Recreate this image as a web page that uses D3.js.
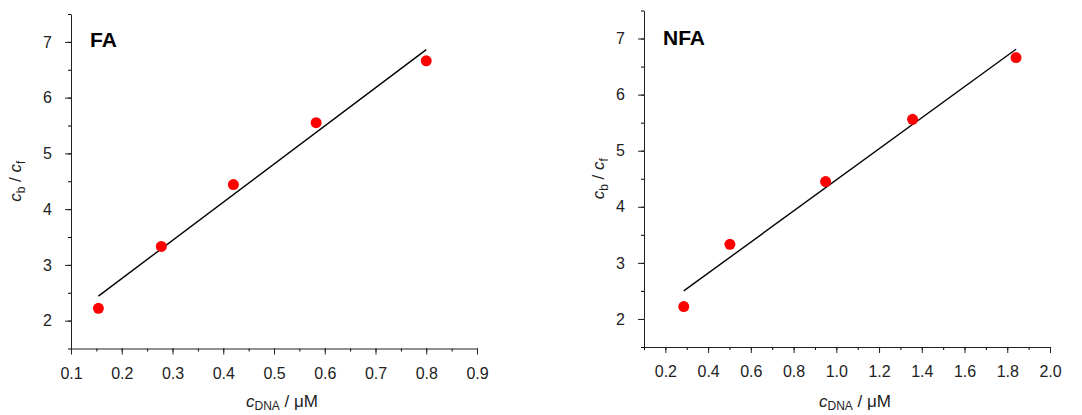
<!DOCTYPE html>
<html>
<head>
<meta charset="utf-8">
<script src="https://cdn.jsdelivr.net/npm/d3@7"></script>
<style>
  body { margin: 0; background: #fff; }
  svg { font-family: "Liberation Sans", Arial, sans-serif; }
</style>
</head>
<body>
<svg id="chart" width="1082" height="415"></svg>
<script>
// data
var faX = [0.154, 0.278, 0.420, 0.583, 0.800];
var faY = [2.22, 3.33, 4.44, 5.55, 6.66];
var faFit = [[0.154, 2.44], [0.800, 6.86]];

var nfaX = [0.286, 0.502, 0.950, 1.357, 1.841];
var nfaY = [2.22, 3.33, 4.45, 5.56, 6.66];
var nfaFit = [[0.286, 2.50], [1.841, 6.81]];

var yTicks = [2, 3, 4, 5, 6, 7];
var faXTicks = [0.1, 0.2, 0.3, 0.4, 0.5, 0.6, 0.7, 0.8, 0.9];
var nfaXTicks = [0.2, 0.4, 0.6, 0.8, 1.0, 1.2, 1.4, 1.6, 1.8, 2.0];

var svg = d3.select("#chart");

function panel(opt) {
    var g = svg.append("g");
    var x = d3.scaleLinear().domain(opt.xDomain).range([opt.left, opt.right]);
    var y = d3.scaleLinear().domain([1.5, 7.5]).range([opt.bottom, opt.top]);

    // minor ticks
    var minorX = d3.range(opt.xDomain[0], opt.xDomain[1] + 1e-9, opt.xMinor);
    g.append("g")
        .attr("transform", "translate(0," + opt.bottom + ")")
        .call(d3.axisBottom(x).tickValues(minorX).tickSize(3).tickFormat(""))
        .call(s => s.select(".domain").remove());
    g.append("g")
        .attr("transform", "translate(" + opt.left + ",0)")
        .call(d3.axisLeft(y).tickValues(d3.range(1.5, 7.51, 0.5)).tickSize(3).tickFormat(""))
        .call(s => s.select(".domain").remove());

    // major axes
    var xa = g.append("g")
        .attr("transform", "translate(0," + opt.bottom + ")")
        .call(d3.axisBottom(x).tickValues(opt.xTicks).tickSize(6).tickSizeOuter(0)
            .tickPadding(13).tickFormat(d3.format(".1f")));
    var ya = g.append("g")
        .attr("transform", "translate(" + opt.left + ",0)")
        .call(d3.axisLeft(y).tickValues(yTicks).tickSize(6).tickSizeOuter(0)
            .tickPadding(13).tickFormat(d3.format("d")));

    [xa, ya].forEach(function(a) {
        a.selectAll("text").attr("font-size", 16).attr("fill", "#222")
            .attr("font-family", "Liberation Sans, Arial, sans-serif");
        a.selectAll("line, path").attr("stroke", "#222");
    });

    // fit line
    g.append("line")
        .attr("x1", x(opt.fit[0][0])).attr("y1", y(opt.fit[0][1]))
        .attr("x2", x(opt.fit[1][0])).attr("y2", y(opt.fit[1][1]))
        .attr("stroke", "#000").attr("stroke-width", 1.4);

    // points
    g.selectAll("circle.pt")
        .data(opt.xs.map(function(v, i) { return [v, opt.ys[i]]; }))
        .enter().append("circle")
        .attr("class", "pt")
        .attr("cx", d => x(d[0]))
        .attr("cy", d => y(d[1]))
        .attr("r", 5.5)
        .attr("fill", "#ff0000");

    // panel label
    g.append("text")
        .attr("x", opt.labelX).attr("y", opt.labelY)
        .attr("font-size", 21).attr("font-weight", "bold")
        .text(opt.label);

    // x title
    var xt = g.append("text")
        .attr("x", (opt.left + opt.right) / 2 + 8).attr("y", 407)
        .attr("text-anchor", "middle").attr("font-size", 17).attr("fill", "#222");
    xt.append("tspan").attr("font-style", "italic").text("c");
    xt.append("tspan").attr("font-size", 12).attr("dy", 3).text("DNA");
    xt.append("tspan").attr("dy", -3).text(" / \u03bcM");

    // y title
    var yt = g.append("text")
        .attr("transform", "translate(" + opt.yTitleX + "," + ((opt.top + opt.bottom) / 2) + ") rotate(-90)")
        .attr("text-anchor", "middle").attr("font-size", 17).attr("fill", "#222");
    yt.append("tspan").attr("font-style", "italic").text("c");
    yt.append("tspan").attr("font-size", 12).attr("dy", 4).text("b");
    yt.append("tspan").attr("dy", -4).text(" / ");
    yt.append("tspan").attr("font-style", "italic").text("c");
    yt.append("tspan").attr("font-size", 12).attr("dy", 4).text("f");
}

panel({
    xs: faX, ys: faY, fit: faFit, label: "FA",
    xDomain: [0.1, 0.9], xTicks: faXTicks, xMinor: 0.05,
    left: 71, right: 477, top: 14, bottom: 348.5,
    labelX: 90, labelY: 47, yTitleX: 21
});

panel({
    xs: nfaX, ys: nfaY, fit: nfaFit, label: "NFA",
    xDomain: [0.1, 2.0], xTicks: nfaXTicks, xMinor: 0.1,
    left: 644, right: 1050, top: 10.5, bottom: 347,
    labelX: 663, labelY: 45, yTitleX: 604
});
</script>
</body>
</html>
